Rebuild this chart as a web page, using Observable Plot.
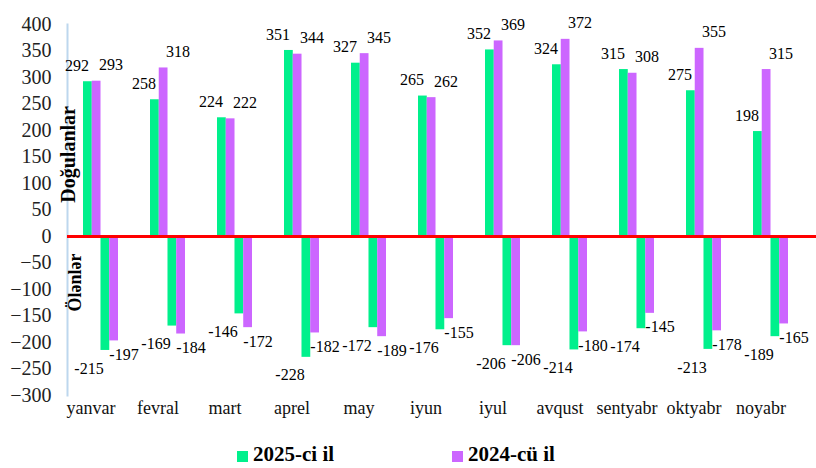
<!DOCTYPE html>
<html><head><meta charset="utf-8">
<script src="https://cdn.jsdelivr.net/npm/d3@7"></script>
<script src="https://cdn.jsdelivr.net/npm/@observablehq/plot@0.6"></script>
<style>
html,body{margin:0;padding:0;background:#fff;}
body{width:816px;height:468px;overflow:hidden;font-family:"Liberation Serif","DejaVu Serif",serif;}
#legend{position:relative;height:30px;font-weight:bold;font-size:21px;color:#000;}
#legend .item{position:absolute;top:4px;display:flex;align-items:center;white-space:nowrap;}
#legend .sw{width:11px;height:11px;margin-right:5px;margin-top:3px;}
</style></head>
<body><div id="chart"></div><div id="legend"></div>
<script>
const months = ["yanvar","fevral","mart","aprel","may","iyun","iyul","avqust","sentyabr","oktyabr","noyabr"];
const births2025 = [292,258,224,351,327,265,352,324,315,275,198];
const births2024 = [293,318,222,344,345,262,369,372,308,355,315];
const deaths2025 = [-215,-169,-146,-228,-172,-176,-206,-214,-174,-213,-189];
const deaths2024 = [-197,-184,-172,-182,-189,-155,-206,-180,-145,-178,-165];
const yTicks = [-300,-250,-200,-150,-100,-50,0,50,100,150,200,250,300,350,400];
const seriesNames = ["2025-ci il","2024-cü il"];
const birthsTitle = "Doğulanlar", deathsTitle = "Ölənlər";

const green = "#00F08C", violet = "#CC66FF";
const FONT = "'Liberation Serif', 'DejaVu Serif', serif";
const W = 816, H = 438, ML = 67, XR = 804;
const padInner = 0.478, padOuter = 0.239;
const bandW = (XR - ML) / months.length * (1 - padInner);
const q = bandW / 4;

const series = [
  {values: births2025, color: green,  slot: 0, dx: -24, dy: -16},
  {values: births2024, color: violet, slot: 1, dx: 10,  dy: -16},
  {values: deaths2025, color: green,  slot: 2, dx: -12, dy: 18},
  {values: deaths2024, color: violet, slot: 3, dx: 23,  dy: 14}
];

const marks = [];
for (const s of series) {
  const rows = months.map((m, i) => ({month: m, value: s.values[i]}));
  marks.push(Plot.barY(rows, {x: "month", y: "value", fill: s.color,
    insetLeft: s.slot * q, insetRight: (3 - s.slot) * q}));
  marks.push(Plot.text(rows, {x: "month", y: "value", text: d => String(d.value),
    dx: s.dx, dy: s.dy, fontSize: 16, fontFamily: FONT, fill: "#000"}));
}

const chart = Plot.plot({
  width: W, height: H,
  marginLeft: ML, marginRight: 0, marginTop: 24, marginBottom: 43,
  style: {fontFamily: FONT, background: "#fff", color: "#000"},
  x: {domain: months, range: [ML, XR], paddingInner: padInner, paddingOuter: padOuter, label: null},
  y: {domain: [-300, 400], label: null},
  marks: [
    Plot.frame({anchor: "left", stroke: "#bdd7ee", strokeWidth: 2}),
    ...marks,
    Plot.ruleY([0], {stroke: "#ff0000", strokeWidth: 3}),
    Plot.axisY({ticks: yTicks, tickSize: 0, tickPadding: 16, fontSize: 20, fontFamily: FONT, fill: "#222", label: null}),
    Plot.axisX({tickSize: 0, tickPadding: 6, fontSize: 18, fontFamily: FONT, dx: -10, fill: "#111", label: null}),
    Plot.text([birthsTitle], {y: 155, text: d => d, frameAnchor: "left", textAnchor: "middle",
      rotate: -90, dx: 1, fontSize: 20, fontWeight: "bold", fontFamily: FONT, fill: "#000"}),
    Plot.text([deathsTitle], {y: -87, text: d => d, frameAnchor: "left", textAnchor: "middle",
      rotate: -90, dx: 8, fontSize: 18, fontWeight: "bold", fontFamily: FONT, fill: "#000"})
  ]
});
document.getElementById("chart").appendChild(chart);

const legend = document.getElementById("legend");
const legendPos = [237, 452];
seriesNames.forEach((name, i) => {
  const it = document.createElement("div");
  it.className = "item";
  it.style.left = legendPos[i] + "px";
  const sw = document.createElement("span");
  sw.className = "sw";
  sw.style.background = i === 0 ? green : violet;
  const t = document.createElement("span");
  t.textContent = name;
  it.appendChild(sw); it.appendChild(t);
  legend.appendChild(it);
});
</script>
</body></html>
